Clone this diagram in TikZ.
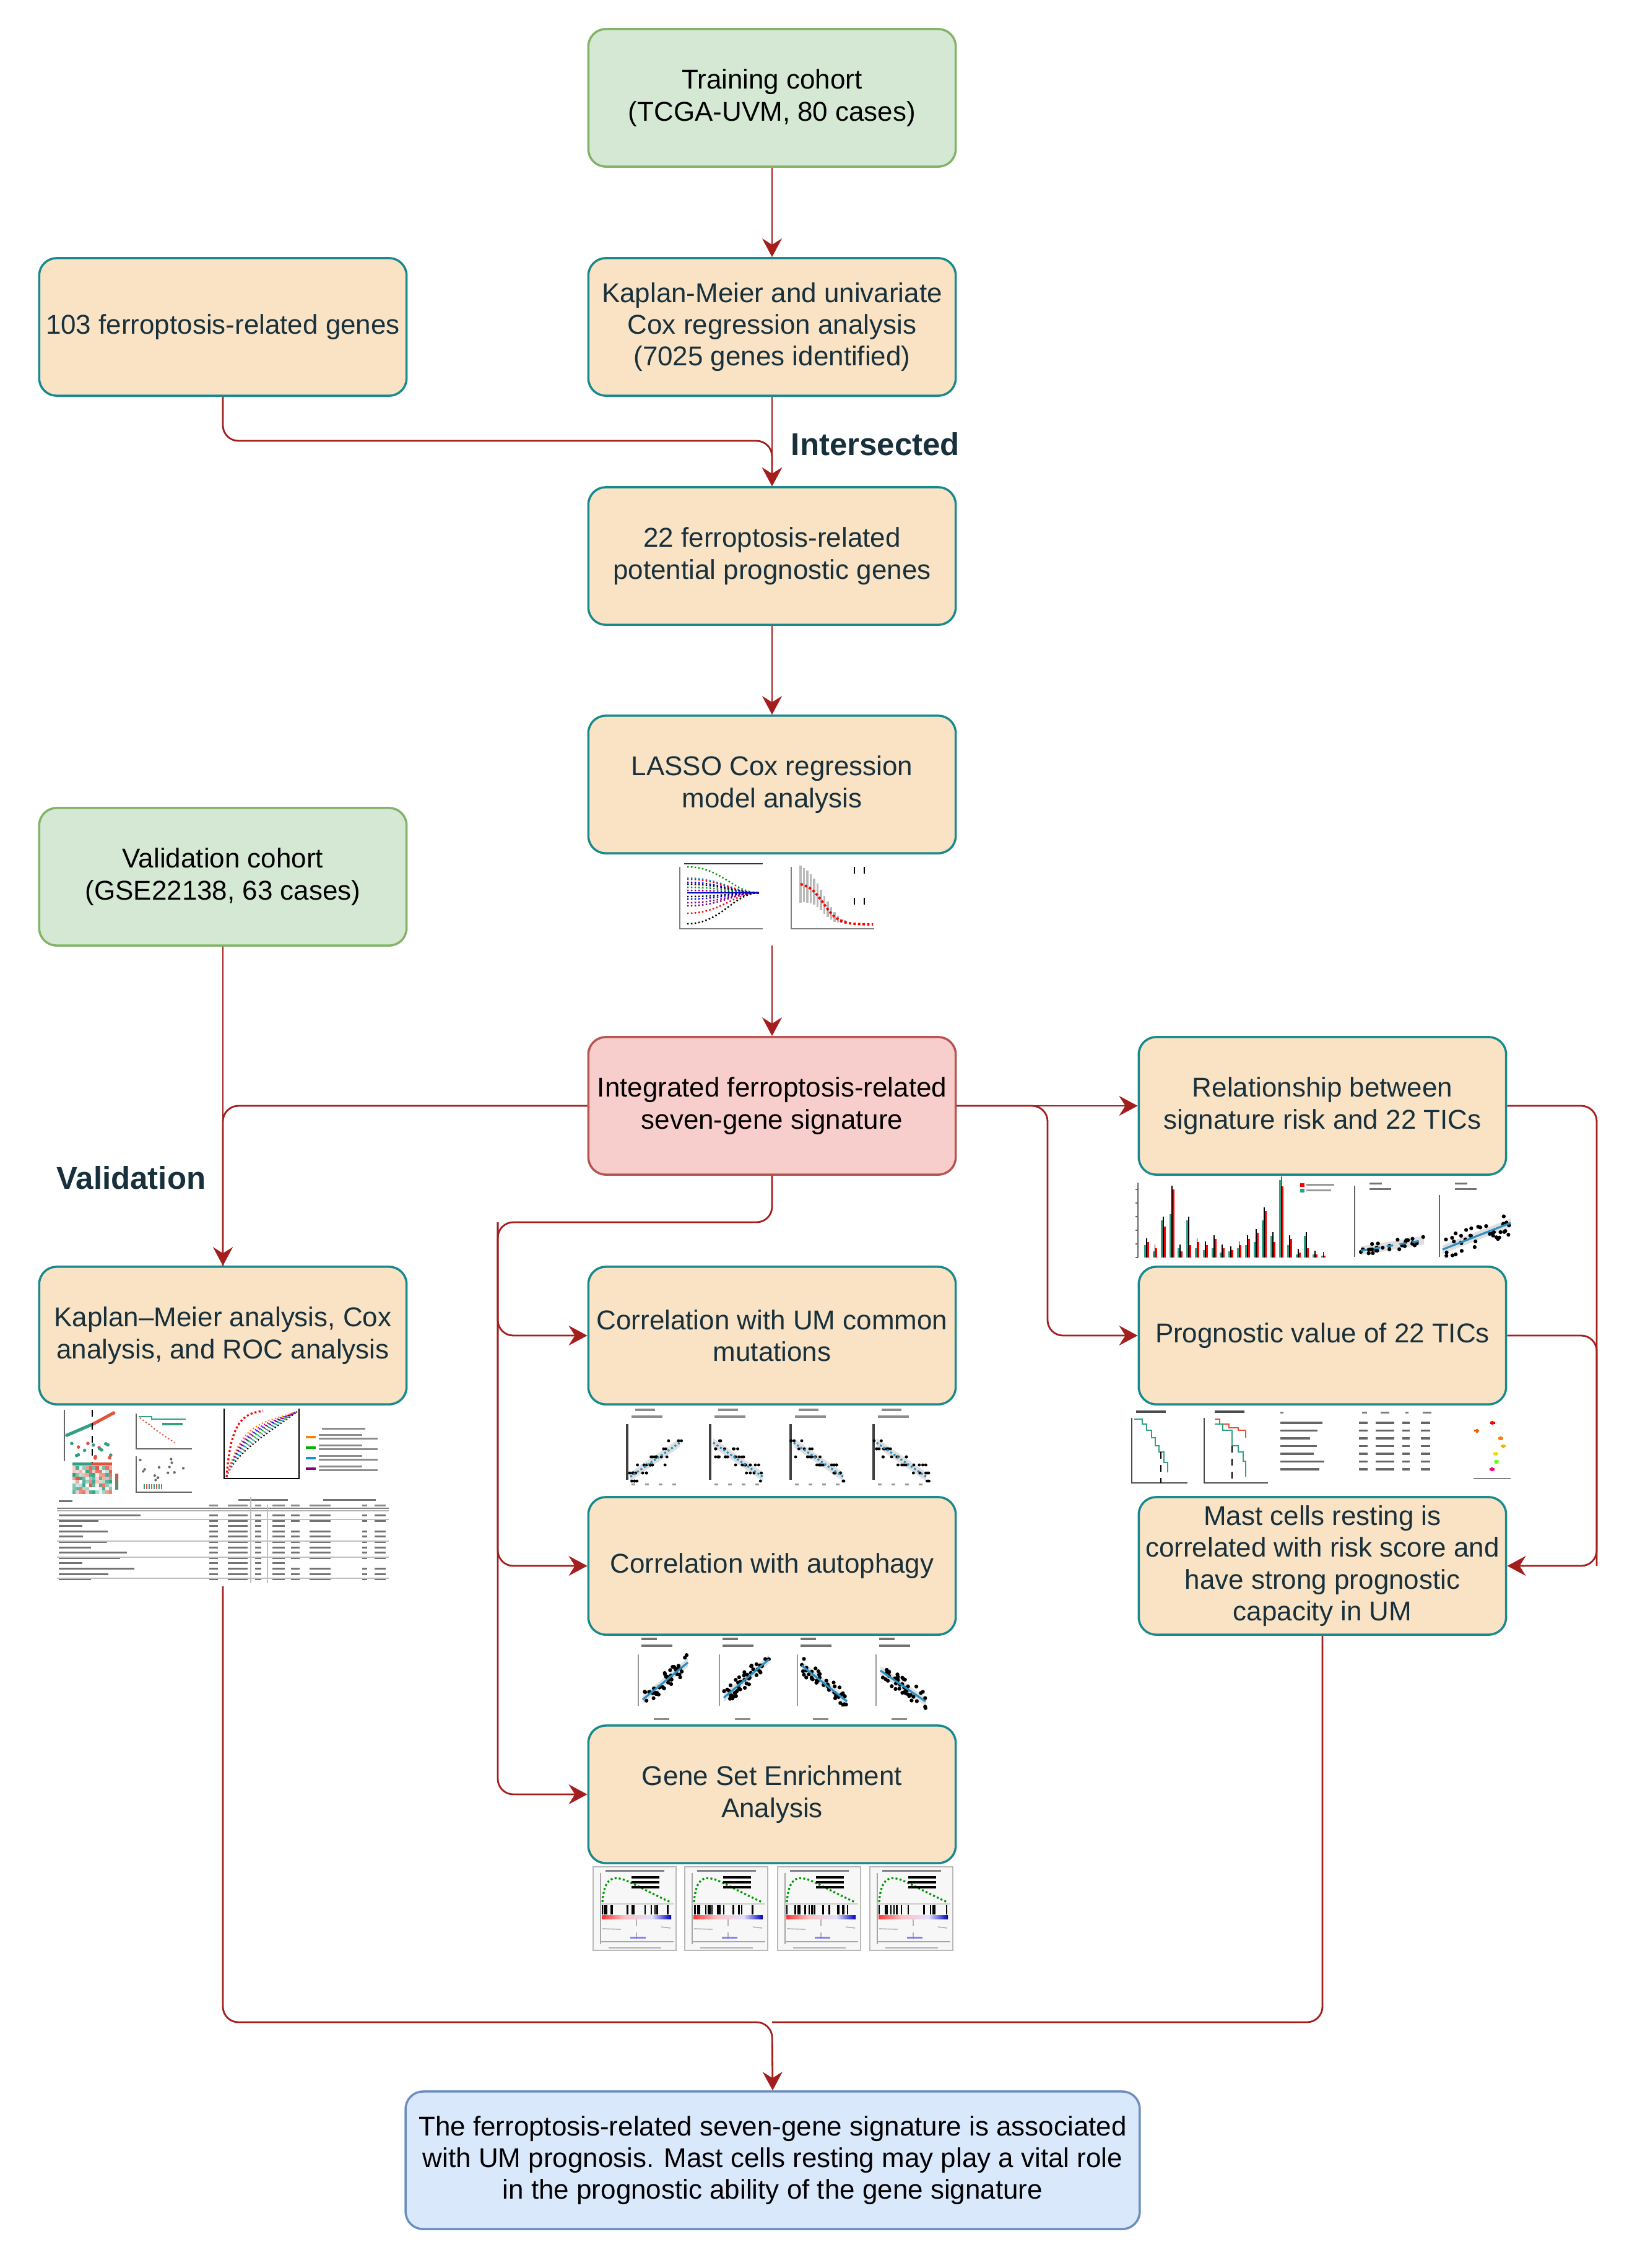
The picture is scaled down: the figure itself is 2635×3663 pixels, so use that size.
\documentclass[tikz,border=0pt]{standalone}
\usepackage{fontspec}
\setmainfont{Liberation Sans}
\usetikzlibrary{arrows.meta,calc}
\definecolor{ofill}{HTML}{FAE3C5}
\definecolor{oline}{HTML}{178A8E}
\definecolor{gfill}{HTML}{D5E8D4}
\definecolor{gline}{HTML}{82B366}
\definecolor{rfill}{HTML}{F8CECC}
\definecolor{rline}{HTML}{B85450}
\definecolor{bfill}{HTML}{DAE8FC}
\definecolor{bline}{HTML}{6C8EBF}
\definecolor{arrc}{HTML}{A51E1E}
\definecolor{txt}{HTML}{17303B}
\definecolor{plotblue}{HTML}{2A8FC1}
\definecolor{hmred}{HTML}{E0533D}
\definecolor{hmgrn}{HTML}{2FA084}
\newcommand\scatpts[7]{%
  \fill[gray!25] ({(#1)},{(#2)-7})--({(#3)},{(#4)-7})--({(#3)},{(#4)+7})--({(#1)},{(#2)+7})--cycle;
  \foreach \i in {1,...,#5}{%
    \pgfmathsetmacro\rr{rnd}%
    \pgfmathsetmacro\sxx{(#1)+((#3)-(#1))*\rr}%
    \pgfmathsetmacro\syy{(#2)+((#4)-(#2))*\rr+(#6)*rand}%
    \fill[black] (\sxx,\syy) circle (0.9pt);}%
  \draw[plotblue,line width=0.9pt,#7] ({(#1)},{(#2)})--({(#3)},{(#4)});}
\newcommand\rowpts[6]{%
  \fill[gray!25] ({(#1)},{(#2)-7})--({(#3)},{(#4)-7})--({(#3)},{(#4)+7})--({(#1)},{(#2)+7})--cycle;
  \foreach \i in {1,...,#5}{%
    \pgfmathsetmacro\rr{rnd}%
    \pgfmathsetmacro\sxx{(#1)-5+((#3)-(#1)+10)*\rr}%
    \pgfmathsetmacro\syy{round(((#2)+((#4)-(#2))*\rr+(#6)*rand)/13)*13}%
    \fill[black] (\sxx,\syy) circle (0.7pt);}%
  \draw[plotblue,line width=0.9pt,densely dotted] ({(#1)},{(#2)})--({(#3)},{(#4)});}
\begin{document}
\begin{tikzpicture}[x=0.01cm,y=-0.01cm,
  box/.style={rounded corners=0.28cm, line width=1pt, minimum width=5.93cm,
    minimum height=2.22cm, align=center, inner sep=2pt,
    font=\fontsize{12.5}{14.6}\selectfont},
  obox/.style={box, fill=ofill, draw=oline, text=txt},
  gbox/.style={box, fill=gfill, draw=gline, text=black},
  rbox/.style={box, fill=rfill, draw=rline, text=black},
  bbox/.style={box, fill=bfill, draw=bline, text=black, minimum width=11.85cm},
  arr/.style={draw=arrc, line width=0.8pt, -{Stealth[length=0.3cm,width=0.32cm,inset=0.1cm]}},
  con/.style={draw=arrc, line width=0.8pt},
  rc/.style={rounded corners=0.25cm},
  lbl/.style={font=\fontsize{14.5}{17}\selectfont\bfseries, text=txt},
  tb/.style={fill=black!55}
]
\pgfmathsetseed{7}
\fill[white] (0,0) rectangle (2635,3663);
\useasboundingbox (0,0) rectangle (2635,3663);

% ---------------- nodes ----------------
\node[gbox] (train) at (1247,158) {Training cohort\\(TCGA-UVM, 80 cases)};
\node[obox] (genes) at (360,528) {103 ferroptosis-related genes};
\node[obox] (km1) at (1247,528) {Kaplan-Meier and univariate\\Cox regression analysis\\(7025 genes identified)};
\node[obox] (g22) at (1247,898) {22 ferroptosis-related\\potential prognostic genes};
\node[obox] (lasso) at (1247,1267) {LASSO Cox regression\\model analysis};
\node[gbox] (valid) at (360,1416) {Validation cohort\\(GSE22138, 63 cases)};
\node[rbox] (integ) at (1247,1786) {Integrated ferroptosis-related\\seven-gene signature};
\node[obox] (rel) at (2136,1786) {Relationship between\\signature risk and 22 TICs};
\node[obox] (kmc) at (360,2157) {Kaplan{\textendash}Meier analysis, Cox\\analysis, and ROC analysis};
\node[obox] (um) at (1247,2157) {Correlation with UM common\\mutations};
\node[obox] (prog) at (2136,2157) {Prognostic value of 22 TICs};
\node[obox] (auto) at (1247,2529) {Correlation with autophagy};
\node[obox] (mast) at (2136,2529) {Mast cells resting is\\correlated with risk score and\\have strong prognostic\\capacity in UM};
\node[obox] (gsea) at (1247,2898) {Gene Set Enrichment\\Analysis};
\node[bbox] (final) at (1248,3489) {The ferroptosis-related seven-gene signature is associated\\with UM prognosis. Mast cells resting may play a vital role\\in the prognostic ability of the gene signature};

\node[lbl] (lint) at (1414,717) {Intersected};
\node[lbl] (lval) at (212,1902) {Validation};

% ---------------- junction coordinates ----------------
\coordinate (jI) at (1247,712);
\coordinate (lassoimg) at (1247,1527);
\coordinate (jL) at (804,1974);
\coordinate (jR) at (1692,2157);
\coordinate (jM) at (2579,2529);
\coordinate (kmcimg) at (360,2562);
\coordinate (jF) at (1247,3266);

% ---------------- connectors ----------------
\draw[arr] (train) -- (km1);
\draw[arr] (km1) -- (g22);
\draw[arr,rc] (genes.south) |- (jI) -- (g22.north);
\draw[arr] (g22) -- (lasso);
\draw[arr] (lassoimg) -- (integ.north);
\draw[arr] (valid) -- (kmc);
\draw[con,rc] (integ.west) -| (kmc.north);
\draw[arr,rc] (integ.south) |- (jL) |- (gsea.west);
\draw[arr,rc] (jL) |- (um.west);
\draw[arr,rc] (jL) |- (auto.west);
\draw[arr] (integ.east) -- (rel.west);
\draw[arr,rc] (integ.east) -| (jR) -- (prog.west);
\draw[arr,rc] (rel.east) -| (jM) -- (mast.east);
\draw[con,rc] (prog.east) -| (jM);
\draw[arr,rc] (kmcimg) |- (jF) -- (final.north);
\draw[con,rc] (mast.south) |- (jF);

% ---------------- thumbnail: LASSO ----------------
\begin{scope}[line width=0.4pt]
\draw[black!80] (1105,1395)--(1232,1395);
\draw[gray] (1098,1400)--(1098,1500)--(1232,1500);
\foreach \yy/\cc in {1400/green!60!black,1418/cyan,1420/red,1425/blue,1428/black,1433/green!60!black,1438/violet,1448/black,1452/blue,1458/violet,1463/violet,1475/red,1492/black}
  \draw[\cc,densely dotted,line width=0.7pt] (1110,\yy) .. controls (1165,\yy) and (1185,1442) .. (1226,1442);
\draw[blue!80!black,line width=0.8pt] (1110,1442)--(1226,1442);
\draw[gray] (1278,1400)--(1278,1500)--(1412,1500);
\foreach \k in {0,...,13}{%
  \pgfmathsetmacro\xx{1293+5.5*\k}%
  \pgfmathsetmacro\yy{1425+68/(1+exp(-(\xx-1330)/12))}%
  \pgfmathsetmacro\ee{max(3,30-2.2*\k)}%
  \draw[gray!55,line width=1pt] (\xx,\yy-\ee)--(\xx,\yy+\ee);}
\draw[red,densely dotted,line width=1.1pt] plot[domain=1293:1410,samples=40] (\x,{1425+68/(1+exp(-(\x-1330)/12))});
\draw[black,dashed,line width=0.5pt] (1380,1400)--(1380,1420) (1380,1450)--(1380,1470) (1396,1400)--(1396,1420) (1396,1450)--(1396,1470);
\end{scope}

% ---------------- thumbnail: KM / Cox / ROC ----------------
\begin{scope}[line width=0.4pt]
\draw[black!60] (104,2277)--(104,2360);
\foreach \k in {0,...,14}{\fill[hmgrn] ({108+2.8*\k},{2318-1.2*\k}) circle (0.8pt);}
\foreach \k in {0,...,12}{\fill[hmred] ({150+2.8*\k},{2300-1.5*\k}) circle (0.8pt);}
\foreach \i in {1,...,16}{%
  \pgfmathsetmacro\sxx{108+72*rnd}\pgfmathsetmacro\syy{2328+28*rnd}%
  \pgfmathtruncatemacro\cc{rnd>0.5}%
  \ifnum\cc=1 \fill[hmred] (\sxx,\syy) circle (0.8pt);\else\fill[hmgrn] (\sxx,\syy) circle (0.8pt);\fi}
\draw[black,dashed] (149,2277)--(149,2365);
\fill[hmgrn] (117,2362) rectangle (149,2367);
\fill[hmred] (149,2362) rectangle (181,2367);
\foreach \r in {0,...,7}{\foreach \c in {0,...,11}{%
  \pgfmathtruncatemacro\v{100*rnd}%
  \ifnum\v>50 \pgfmathtruncatemacro\w{(\v-50)*2}\fill[hmred!\w!white] ({117+5.33*\c},{2368+5.6*\r}) rectangle ++(5.4,5.7);%
  \else \pgfmathtruncatemacro\w{(50-\v)*2}\fill[hmgrn!\w!white] ({117+5.33*\c},{2368+5.6*\r}) rectangle ++(5.4,5.7);\fi}}
\shade[top color=hmred,bottom color=hmgrn] (186,2380) rectangle (191,2405);
% small KM plots
\draw[black!60] (220,2283)--(220,2340)--(310,2340);
\draw[hmgrn,line width=0.6pt] (224,2288)--(245,2288)--(245,2292)--(300,2292);
\draw[hmred,densely dotted,line width=0.6pt] (226,2290)--(240,2300)--(255,2312)--(270,2322)--(282,2330);
\draw[hmgrn,line width=1pt] (262,2300)--(295,2300);
\draw[black!60] (220,2352)--(220,2410)--(310,2410);
\foreach \i in {1,...,14}{%
  \pgfmathsetmacro\sxx{225+80*rnd}\pgfmathsetmacro\syy{2356+40*rnd}%
  \fill[black!60] (\sxx,\syy) circle (0.6pt);}
\foreach \k in {0,...,7}{\pgfmathtruncatemacro\cc{mod(\k,2)}%
  \ifnum\cc=1 \fill[hmred] ({232+4*\k},2397) rectangle ++(2,8);\else\fill[hmgrn] ({232+4*\k},2397) rectangle ++(2,8);\fi}
% ROC
\draw[black,line width=0.6pt] (362,2275)--(362,2388)--(483,2388)--(483,2275);
\foreach \b/\cc in {5/black,12/gray,18/cyan,24/green!70!black,30/violet,36/blue,42/magenta,50/orange}
  \draw[\cc,densely dotted,line width=0.6pt] (366,2385) .. controls ({380+\b*0.2},{2350-\b}) and ({430-\b*0.3},{2320-\b*0.4}) .. (480,2280);
\draw[red,densely dotted,line width=0.9pt] (366,2385) .. controls (372,2310) and (385,2282) .. (425,2279);
% legend
\foreach \yy/\cc in {2321/orange,2338/green!70!black,2355/cyan!80!blue,2372/violet}{%
  \draw[\cc,line width=1.2pt] (494,\yy)--(510,\yy);
  \fill[black!45] (515,{\yy-5}) rectangle ++(70,3);
  \fill[black!45] (515,{\yy+1}) rectangle ++(95,3);}
\fill[black!45] (520,2306) rectangle ++(70,3);
% table
\fill[tb] (95,2423) rectangle ++(22,3);
\fill[tb] (385,2421) rectangle ++(80,3);
\fill[tb] (522,2421) rectangle ++(85,3);
\foreach \cx/\cw in {338/14,368/32,412/10,440/20,470/14,500/34,585/8,605/18}{\fill[black!45] (\cx,2430) rectangle ++(\cw,3);}
\draw[gray,line width=0.8pt] (92,2436)--(628,2436);
\draw[gray!60] (92,2440)--(628,2440);
\foreach \r in {0,...,12}{%
  \pgfmathsetmacro\ry{2446+8.6*\r}%
  \pgfmathsetmacro\wa{30+110*rnd}%
  \fill[tb] (95,\ry) rectangle ++(\wa,3);
  \foreach \cx/\cw in {338/14,368/32,412/10,440/20}{\fill[tb] (\cx,\ry) rectangle ++(\cw,3);}
  \pgfmathtruncatemacro\cc{rnd>0.35}%
  \ifnum\cc=1 \foreach \cx/\cw in {470/14,500/34,585/8,605/18}{\fill[tb] (\cx,\ry) rectangle ++(\cw,3);}\fi}
\draw[gray!50] (92,2454)--(628,2454) (92,2489)--(628,2489) (92,2515)--(628,2515) (92,2549)--(628,2549);
\draw[gray!50] (405,2418)--(405,2557) (432,2430)--(432,2557);
\end{scope}

% ---------------- thumbnail: relationship ----------------
\begin{scope}[line width=0.4pt]
\draw[black!60] (1838,1910)--(1838,2031);
\foreach \t in {0,...,5}{\draw[black!60] (1834,{2031-22*\t})--(1838,{2031-22*\t});}
\foreach \gh/\rh [count=\k from 0] in {20/25,10/15,60/50,70/110,15/10,60/20,15/25,12/20,15/30,8/15,10/12,15/20,20/30,25/40,60/75,35/25,125/115,20/30,5/8,35/15,5/5,3/3}{%
  \pgfmathsetmacro\bx{1848+13.6*\k}%
  \pgfmathsetmacro\bt{2031-max(\gh,\rh)-6}%
  \fill[hmgrn] (\bx,2031) rectangle ++(3.5,-\gh);
  \fill[red] ({\bx+4.3},2031) rectangle ++(3.5,-\rh);
  \draw[black,line width=0.5pt] ({\bx+3.9},2031)--({\bx+3.9},\bt);}
\fill[red] (2100,1911) rectangle ++(7,6);
\fill[hmgrn] (2100,1920) rectangle ++(7,6);
\fill[black!40] (2110,1912) rectangle ++(45,3);
\fill[black!40] (2110,1921) rectangle ++(40,3);
\draw[black!60] (2188,1915)--(2188,2030);
\fill[black!55] (2212,1910) rectangle ++(20,3);
\fill[black!55] (2212,1919) rectangle ++(35,3);
\scatpts{2198}{2020}{2300}{2003}{28}{8}{dashed}
\draw[black!60] (2325,1930)--(2325,2030);
\fill[black!55] (2350,1910) rectangle ++(20,3);
\fill[black!55] (2350,1919) rectangle ++(35,3);
\scatpts{2330}{2018}{2440}{1975}{38}{18}{}
\end{scope}

% ---------------- thumbnail: prognostic ----------------
\begin{scope}[line width=0.4pt]
\fill[black!70] (1835,2278) rectangle ++(48,4);
\draw[black!70] (1828,2290)--(1828,2395)--(1918,2395);
\draw[hmgrn,line width=0.7pt] (1832,2292)--(1845,2292)--(1845,2300)--(1852,2300)--(1852,2310)--(1860,2310)--(1860,2322)--(1866,2322)--(1866,2335)--(1872,2335)--(1872,2345)--(1880,2345)--(1880,2362)--(1886,2362)--(1886,2378);
\draw[black,dashed] (1875,2345)--(1875,2395);
\fill[black!70] (1962,2278) rectangle ++(48,4);
\draw[black!70] (1945,2290)--(1945,2395)--(2048,2395);
\draw[hmred,line width=0.7pt] (1962,2292)--(1970,2292)--(1970,2300)--(1985,2300)--(1985,2306)--(2000,2306)--(2000,2310)--(2012,2310)--(2012,2322);
\draw[hmgrn,line width=0.7pt] (1962,2300)--(1975,2300)--(1975,2310)--(1990,2310)--(1990,2335)--(2000,2335)--(2000,2345)--(2008,2345)--(2008,2360)--(2012,2360)--(2012,2385);
\draw[black,dashed] (1990,2335)--(1990,2395);
\foreach \cx/\cw in {2068/5,2200/8,2230/14,2270/5,2298/14}{\fill[black!50] (\cx,2280) rectangle ++(\cw,3);}
\foreach \cc [count=\k from 0] in {red,orange!70!red,orange,orange!60!yellow,yellow!90!black,green!60!yellow,magenta!80!red}{%
  \pgfmathsetmacro\ry{2296+12.5*\k}%
  \pgfmathsetmacro\wa{35+45*rnd}%
  \fill[black!60] (2068,\ry) rectangle ++(\wa,3.5);
  \foreach \cx/\cw in {2195/14,2222/30,2265/12,2295/15}{\fill[black!60] (\cx,\ry) rectangle ++(\cw,3.5);}
  \pgfmathsetmacro\mx{2385+45*rnd}%
  \draw[\cc,line width=1pt] ({\mx-4},{\ry+2})--({\mx+4},{\ry+2}) (\mx,{\ry-1})--(\mx,{\ry+5});}
\draw[black!50] (2380,2388)--(2440,2388);
\end{scope}

% ---------------- thumbnail: UM mutations ----------------
\begin{scope}[line width=0.4pt]
\foreach \ux/\sg in {998/1,1132/-1,1262/-1,1396/-1}{%
  \fill[black!45] ({\ux+28},2275) rectangle ++(32,4);
  \fill[black!45] ({\ux+22},2286) rectangle ++(50,4);
  \draw[black!75,line width=0.9pt] ({\ux+15},2300)--({\ux+15},2390);
  \rowpts{\ux+20}{2357.5+27.5*\sg}{\ux+100}{2357.5-27.5*\sg}{34}{14}
  \foreach \t in {0,...,3}{\fill[black!40] ({\ux+22+22*\t},2396) rectangle ++(6,3);}
}
\end{scope}

% ---------------- thumbnail: autophagy ----------------
\begin{scope}[line width=0.4pt]
\foreach \ax/\aa/\ab in {1026/2745/2685,1157/2742/2680,1283/2690/2748,1410/2698/2748}{%
  \fill[black!55] ({\ax+10},2645) rectangle ++(25,4);
  \fill[black!55] ({\ax+10},2656) rectangle ++(50,4);
  \draw[black!40] ({\ax+5},2672)--({\ax+5},2755);
  \scatpts{\ax+12}{\aa}{\ax+85}{\ab}{45}{14}{}
  \fill[black!45] ({\ax+30},2775) rectangle ++(25,3);
}
\end{scope}

% ---------------- thumbnail: GSEA ----------------
\begin{scope}[line width=0.4pt]
\foreach \gx in {958,1106,1256,1405}{%
  \fill[gray!6] (\gx,3015) rectangle ({\gx+134},3150);
  \draw[gray!55,line width=0.8pt] (\gx,3015) rectangle ({\gx+134},3150);
  \fill[black!50] ({\gx+20},3020) rectangle ++(95,3);
  \draw[gray!70] ({\gx+12},3025)--({\gx+12},3140);
  \draw[gray!40] ({\gx+12},3075)--({\gx+130},3075);
  \draw[green!60!black,densely dotted,line width=0.9pt] ({\gx+15},3072) .. controls ({\gx+18},3032) and ({\gx+32},3028) .. ({\gx+55},3038) .. controls ({\gx+85},3052) and ({\gx+110},3066) .. ({\gx+125},3072);
  \foreach \t in {0,1,2}{\fill[black] ({\gx+62},{3030+8*\t}) rectangle ++(45,4);}
  \foreach \i in {1,...,16}{\pgfmathsetmacro\bb{\gx+15+110*rnd^1.6}\draw[black,line width=0.7pt] (\bb,3077)--(\bb,3092);}
  \shade[left color=red!80,right color=pink] ({\gx+14},3093) rectangle ({\gx+50},3099);
  \shade[left color=pink,right color=blue!12] ({\gx+50},3093) rectangle ({\gx+95},3099);
  \shade[left color=blue!12,right color=blue!75!black] ({\gx+95},3093) rectangle ({\gx+126},3099);
  \draw[gray!70] ({\gx+15},3115)--({\gx+45},3116);
  \draw[gray!70] ({\gx+110},3112)--({\gx+125},3114);
  \draw[gray!60,dashed] ({\gx+70},3100)--({\gx+70},3135);
  \fill[blue!50] ({\gx+60},3128) rectangle ++(25,3);
  \draw[gray!70] ({\gx+12},3136)--({\gx+130},3136);
  \draw[gray!60] ({\gx+25},3146)--({\gx+110},3146);
}
\end{scope}
\end{tikzpicture}
\end{document}
